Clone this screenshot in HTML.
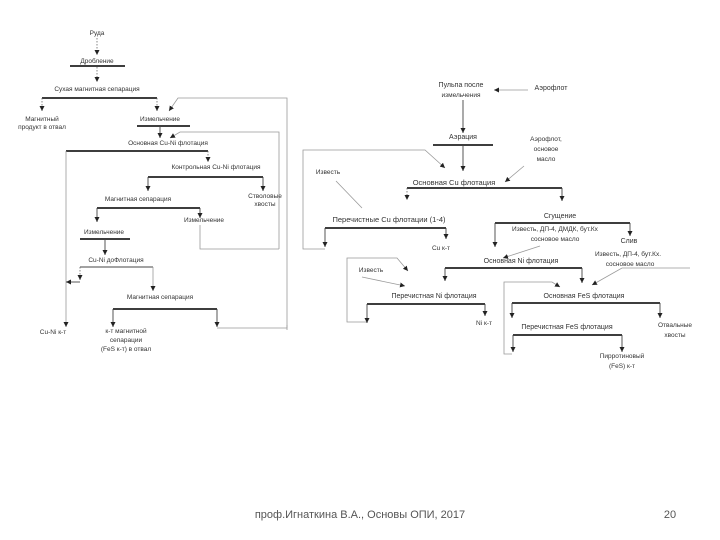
<!DOCTYPE html>
<html><head><meta charset="utf-8"><style>
html,body{margin:0;padding:0;background:#fff;width:720px;height:540px;overflow:hidden}
svg{display:block}
text{font-family:"Liberation Sans",sans-serif;font-size:6.5px;fill:#333;text-anchor:middle}
.l{stroke:#444;stroke-width:0.9;fill:none}
.t{stroke:#222;stroke-width:1.8;fill:none}
.g{stroke:#999;stroke-width:0.8;fill:none}
.d{stroke:#666;stroke-width:0.8;fill:none;stroke-dasharray:1.5,1.5}
</style></head><body>
<svg width="720" height="540" viewBox="0 0 720 540">
<defs><marker id="a" markerWidth="6" markerHeight="6" refX="5" refY="3" orient="auto" markerUnits="userSpaceOnUse"><path d="M0,0.5 L5,3 L0,5.5z" fill="#222"/></marker></defs>
<!-- LEFT -->
<text x="97" y="35">Руда</text>
<line class="d" x1="97" y1="38" x2="97" y2="55" marker-end="url(#a)"/>
<text x="97" y="63">Дробление</text>
<line class="t" x1="70" y1="66" x2="125" y2="66"/>
<line class="d" x1="97" y1="67" x2="97" y2="82" marker-end="url(#a)"/>
<text x="97" y="91">Сухая магнитная сепарация</text>
<line class="t" x1="42" y1="98" x2="157" y2="98"/>
<line class="d" x1="42" y1="98" x2="42" y2="111" marker-end="url(#a)"/>
<line class="d" x1="157" y1="98" x2="157" y2="111" marker-end="url(#a)"/>
<text x="42" y="121">Магнитный</text><text x="42" y="129">продукт в отвал</text>
<text x="160" y="121">Измельчение</text>
<line class="t" x1="137" y1="126" x2="190" y2="126"/>
<polyline class="g" points="287,330 287,98 178,98 169,111" marker-end="url(#a)"/>
<polyline class="g" points="279,249 279,132 180,132 170,138" marker-end="url(#a)"/>
<line class="l" x1="160" y1="126" x2="160" y2="138" marker-end="url(#a)"/>
<text x="168" y="145">Основная Cu-Ni флотация</text>
<line class="t" x1="66" y1="151" x2="208" y2="151"/>
<line class="g" x1="66" y1="151" x2="66" y2="327" marker-end="url(#a)"/>
<line class="d" x1="208" y1="151" x2="208" y2="162" marker-end="url(#a)"/>
<text x="216" y="169">Контрольная Cu-Ni флотация</text>
<line class="t" x1="148" y1="177" x2="263" y2="177"/>
<line class="l" x1="148" y1="177" x2="148" y2="191" marker-end="url(#a)"/>
<line class="l" x1="263" y1="177" x2="263" y2="191" marker-end="url(#a)"/>
<text x="265" y="198">Стволовые</text><text x="265" y="206">хвосты</text>
<text x="138" y="201">Магнитная сепарация</text>
<line class="t" x1="97" y1="208" x2="200" y2="208"/>
<line class="l" x1="97" y1="208" x2="97" y2="222" marker-end="url(#a)"/>
<line class="l" x1="200" y1="208" x2="200" y2="218" marker-end="url(#a)"/>
<text x="204" y="222">Измельчение</text>
<polyline class="g" points="200,225 200,249 279,249"/>
<text x="104" y="234">Измельчение</text>
<line class="t" x1="80" y1="239" x2="130" y2="239"/>
<line class="l" x1="105" y1="239" x2="105" y2="255" marker-end="url(#a)"/>
<text x="116" y="262">Cu-Ni доФлотация</text>
<line class="l" x1="80" y1="267" x2="153" y2="267"/>
<line class="d" x1="80" y1="267" x2="80" y2="280" marker-end="url(#a)"/>
<polyline class="l" points="80,282 66,282" marker-end="url(#a)"/>
<line class="g" x1="153" y1="267" x2="153" y2="291" marker-end="url(#a)"/>
<text x="160" y="299">Магнитная сепарация</text>
<line class="t" x1="113" y1="309" x2="217" y2="309"/>
<line class="l" x1="113" y1="309" x2="113" y2="327" marker-end="url(#a)"/>
<line class="l" x1="217" y1="309" x2="217" y2="327" marker-end="url(#a)"/>
<polyline class="g" points="217,328 287,328 287,325"/>
<text x="53" y="334">Cu-Ni к-т</text>
<text x="126" y="333">к-т магнитной</text><text x="126" y="342">сепарации</text><text x="126" y="351">(FeS к-т) в отвал</text>
<!-- RIGHT -->
<text x="461" y="87" style="font-size:7px">Пульпа после</text><text x="461" y="97">измельчения</text>
<text x="551" y="90" style="font-size:7px">Аэрофлот</text>
<line class="g" x1="528" y1="90" x2="494" y2="90" marker-end="url(#a)"/>
<line class="l" x1="463" y1="100" x2="463" y2="133" marker-end="url(#a)"/>
<text x="463" y="139" style="font-size:7px">Аэрация</text>
<line class="t" x1="433" y1="145" x2="493" y2="145"/>
<line class="l" x1="463" y1="145" x2="463" y2="171" marker-end="url(#a)"/>
<text x="546" y="141">Аэрофлот,</text><text x="546" y="151">основое</text><text x="546" y="161">масло</text>
<line class="g" x1="524" y1="166" x2="505" y2="182" marker-end="url(#a)"/>
<polyline class="g" points="325,249 303,249 303,150 425,150 445,168" marker-end="url(#a)"/>
<text x="328" y="174">Известь</text>
<line class="g" x1="336" y1="181" x2="362" y2="208"/>
<text x="454" y="185" style="font-size:7.5px">Основная Cu флотация</text>
<line class="t" x1="407" y1="188" x2="562" y2="188"/>
<line class="d" x1="407" y1="188" x2="407" y2="200" marker-end="url(#a)"/>
<line class="l" x1="562" y1="188" x2="562" y2="201" marker-end="url(#a)"/>
<text x="389" y="222" style="font-size:7.5px">Перечистные Cu флотации (1-4)</text>
<line class="t" x1="325" y1="228" x2="446" y2="228"/>
<line class="l" x1="325" y1="228" x2="325" y2="247" marker-end="url(#a)"/>
<line class="l" x1="446" y1="228" x2="446" y2="239" marker-end="url(#a)"/>
<text x="441" y="250">Cu к-т</text>
<text x="560" y="218" style="font-size:7px">Сгущение</text>
<line class="t" x1="495" y1="223" x2="630" y2="223"/>
<text x="555" y="231">Известь, ДП-4, ДМДК, бут.Кх</text><text x="555" y="241">сосновое масло</text>
<line class="l" x1="495" y1="223" x2="495" y2="247" marker-end="url(#a)"/>
<line class="l" x1="630" y1="223" x2="630" y2="236" marker-end="url(#a)"/>
<text x="629" y="243" style="font-size:7px">Слив</text>
<text x="628" y="256">Известь, ДП-4,  бут.Кх.</text><text x="630" y="266">сосновое масло</text>
<line class="g" x1="540" y1="246" x2="503" y2="258" marker-end="url(#a)"/>
<text x="521" y="263" style="font-size:7px">Основная Ni флотация</text>
<line class="t" x1="445" y1="268" x2="582" y2="268"/>
<line class="l" x1="445" y1="268" x2="445" y2="281" marker-end="url(#a)"/>
<line class="l" x1="582" y1="268" x2="582" y2="283" marker-end="url(#a)"/>
<polyline class="g" points="367,322 347,322 347,258 397,258 408,271" marker-end="url(#a)"/>
<text x="371" y="272">Известь</text>
<line class="g" x1="362" y1="277" x2="405" y2="286" marker-end="url(#a)"/>
<text x="434" y="298" style="font-size:7px">Перечистная Ni флотация</text>
<line class="t" x1="367" y1="304" x2="485" y2="304"/>
<line class="l" x1="367" y1="304" x2="367" y2="323" marker-end="url(#a)"/>
<line class="l" x1="485" y1="304" x2="485" y2="316" marker-end="url(#a)"/>
<text x="484" y="325">Ni к-т</text>
<polyline class="g" points="690,268 622,268 592,285" marker-end="url(#a)"/>
<polyline class="g" points="512,354 504,354 504,282 552,282 560,287" marker-end="url(#a)"/>
<text x="584" y="298" style="font-size:7px">Основная FeS флотация</text>
<line class="t" x1="512" y1="303" x2="660" y2="303"/>
<line class="l" x1="512" y1="303" x2="512" y2="318" marker-end="url(#a)"/>
<line class="l" x1="660" y1="303" x2="660" y2="318" marker-end="url(#a)"/>
<text x="675" y="327">Отвальные</text><text x="675" y="337">хвосты</text>
<text x="567" y="329" style="font-size:7px">Перечистная FeS флотация</text>
<line class="t" x1="513" y1="335" x2="622" y2="335"/>
<line class="l" x1="513" y1="335" x2="513" y2="352" marker-end="url(#a)"/>
<line class="l" x1="622" y1="335" x2="622" y2="352" marker-end="url(#a)"/>
<text x="622" y="358">Пирротиновый</text><text x="622" y="368">(FeS) к-т</text>
<!-- footer -->
<text x="360" y="518" style="font-size:11px;fill:#555">проф.Игнаткина В.А., Основы ОПИ, 2017</text>
<text x="670" y="518" style="font-size:11px;fill:#555">20</text>
</svg>
</body></html>
